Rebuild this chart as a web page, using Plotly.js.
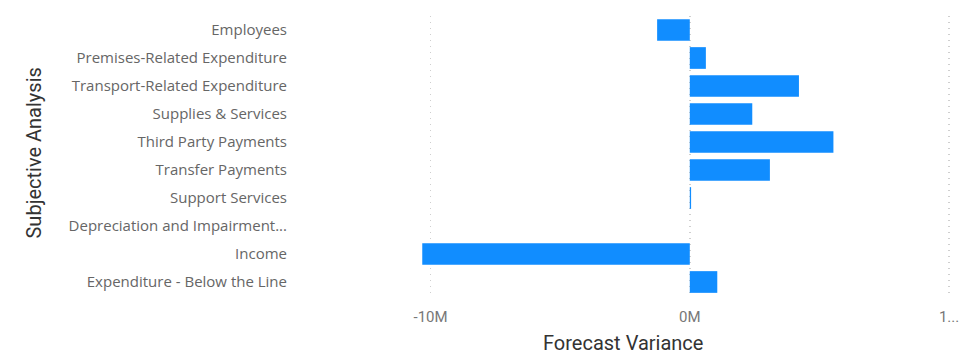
<!DOCTYPE html>
<html>
<head>
<meta charset="utf-8">
<script src="https://cdn.plot.ly/plotly-3.0.1.min.js"></script>
<style>html,body{margin:0;padding:0;background:#fff;}#chart{width:967px;height:355px;}</style>
</head>
<body>
<div id="chart"></div>
<script>
const categories = [
  "Employees",
  "Premises-Related Expenditure",
  "Transport-Related Expenditure",
  "Supplies & Services",
  "Third Party Payments",
  "Transfer Payments",
  "Support Services",
  "Depreciation and Impairment...",
  "Income",
  "Expenditure - Below the Line"
];
const forecastVariance = [-1260000, 620000, 4210000, 2410000, 5540000, 3090000, 50000, 0, -10320000, 1060000];
const xTickVals = [-10000000, 0, 10000000];
const xTickText = ["-10M", "0M", "1..."];
const xTitle = "Forecast Variance";
const yTitle = "Subjective Analysis";

const trace = {
  type: "bar",
  orientation: "h",
  y: categories,
  x: forecastVariance,
  marker: {color: "#118DFF"},
  hoverinfo: "y+x"
};

const layout = {
  width: 967,
  height: 355,
  margin: {l: 415, r: 12, t: 16, b: 59},
  paper_bgcolor: "#ffffff",
  plot_bgcolor: "#ffffff",
  showlegend: false,
  bargap: 0.225,
  font: {family: "Open Sans, sans-serif", color: "#605E5C"},
  xaxis: {
    range: [-10600000, 10230000],
    tickvals: xTickVals,
    ticktext: xTickText,
    tickfont: {family: "Roboto, sans-serif", size: 15, color: "#777777"},
    showgrid: true,
    gridcolor: "#CFCFCF",
    griddash: "1px,5px",
    gridwidth: 1.5,
    zeroline: false,
    showline: false,
    ticks: "",
    ticklabelstandoff: 10,
    fixedrange: true
  },
  yaxis: {
    type: "category",
    autorange: "reversed",
    tickfont: {family: "Open Sans, sans-serif", size: 15, color: "#666666"},
    showgrid: false,
    zeroline: false,
    showline: false,
    ticks: "",
    ticklabelstandoff: 127,
    fixedrange: true
  },
  annotations: [
    {
      text: xTitle,
      xref: "paper", yref: "paper",
      x: 0.3855, y: -0.168,
      xanchor: "center", yanchor: "middle",
      showarrow: false,
      font: {family: "Roboto, sans-serif", size: 20, color: "#333333"}
    },
    {
      text: yTitle,
      xref: "paper", yref: "paper",
      x: -0.705, y: 0.51,
      xanchor: "center", yanchor: "middle",
      textangle: -90,
      showarrow: false,
      font: {family: "Roboto, sans-serif", size: 20, color: "#333333"}
    }
  ]
};

Plotly.newPlot("chart", [trace], layout, {displayModeBar: false, staticPlot: true});
</script>
</body>
</html>
